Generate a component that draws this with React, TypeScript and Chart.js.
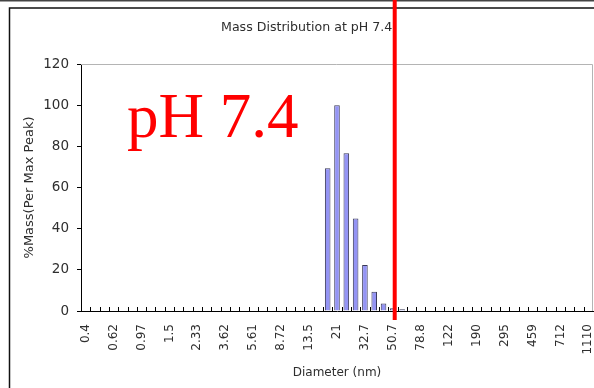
import { useEffect, useRef } from 'react';
import { Chart, registerables } from 'chart.js';

Chart.register(...registerables);

// Diameter channels (nm), log-spaced
const DIAMETERS = [
  '0.4', '0.463', '0.536', '0.62', '0.718', '0.832', '0.97', '1.12', '1.3', '1.5',
  '1.74', '2.01', '2.33', '2.7', '3.12', '3.62', '4.19', '4.85', '5.61', '6.5',
  '7.52', '8.72', '10.1', '11.7', '13.5', '15.6', '18.1', '21', '24.3', '28.2',
  '32.7', '37.9', '43.9', '50.7', '58.7', '68', '78.8', '91.3', '106', '122',
  '141', '164', '190', '220', '255', '295', '342', '396', '459', '532',
  '616', '712', '825', '955', '1110',
];

// %Mass relative to the max peak, one value per channel
const MASS_PCT = [
  0, 0, 0, 0, 0, 0, 0, 0, 0, 0,
  0, 0, 0, 0, 0, 0, 0, 0, 0, 0,
  0, 0, 0, 0, 0, 0, 69.3, 100, 76.6, 45,
  22.4, 9.4, 3.7, 1.3, 0.8, 0.4, 0, 0, 0, 0,
  0, 0, 0, 0, 0, 0, 0, 0, 0, 0,
  0, 0, 0, 0, 0,
];

const Y_MIN = 0;
const Y_MAX = 120;
const Y_STEP = 20;
const LABEL_EVERY = 3;

const CHART_TITLE = 'Mass Distribution at pH 7.4';
const X_TITLE = 'Diameter (nm)';
const Y_TITLE = '%Mass(Per Max Peak)';
const PH_LABEL = 'pH 7.4';
// position of the red cut-off marker, in channel index units
const CUTOFF_CHANNEL = 33.2;

const SANS = "'DejaVu Sans', 'Liberation Sans', Arial, sans-serif";
const SERIF = "'Liberation Serif', 'Times New Roman', serif";
const TEXT = '#2e2e2e';

const decor = {
  id: 'decor',
  beforeDraw(chart: any) {
    const { ctx, width, height } = chart;
    ctx.save();
    ctx.fillStyle = '#ffffff';
    ctx.fillRect(0, 0, width, height);
    ctx.restore();
  },
  afterDatasetsDraw(chart: any) {
    const { ctx, chartArea: a, scales } = chart;
    const x = scales.x;
    ctx.save();
    // light plot frame on top and right
    ctx.strokeStyle = '#b4b4b4';
    ctx.lineWidth = 1;
    ctx.beginPath();
    ctx.moveTo(a.left, a.top + 0.5);
    ctx.lineTo(a.right - 0.5, a.top + 0.5);
    ctx.lineTo(a.right - 0.5, a.bottom);
    ctx.stroke();
    // inward tick marks at channel boundaries
    ctx.strokeStyle = '#000';
    ctx.beginPath();
    for (let i = 1; i < DIAMETERS.length; i++) {
      const px = Math.round(x.getPixelForValue(i - 0.5)) + 0.5;
      ctx.moveTo(px, a.bottom);
      ctx.lineTo(px, a.bottom - 4);
    }
    ctx.stroke();
    ctx.restore();
  },
  afterDraw(chart: any) {
    const { ctx, width, height, chartArea: a, scales } = chart;
    const x = scales.x;
    ctx.save();
    // outer frame
    ctx.strokeStyle = '#444';
    ctx.lineWidth = 1.5;
    ctx.beginPath();
    ctx.moveTo(0, 0.75);
    ctx.lineTo(width, 0.75);
    ctx.stroke();
    ctx.strokeStyle = '#111';
    ctx.lineWidth = 1.5;
    ctx.beginPath();
    ctx.moveTo(width, 8);
    ctx.lineTo(9.5, 8);
    ctx.lineTo(9.5, height);
    ctx.stroke();

    // chart title
    ctx.fillStyle = TEXT;
    ctx.font = `12.6px ${SANS}`;
    ctx.textAlign = 'center';
    ctx.textBaseline = 'alphabetic';
    ctx.fillText(CHART_TITLE, 306.7, 30.7);

    // big pH label
    ctx.fillStyle = '#ff0000';
    ctx.font = `63px ${SERIF}`;
    ctx.textAlign = 'left';
    ctx.fillText(PH_LABEL, 127, 137);

    // cut-off marker
    const mx = x.getPixelForValue(CUTOFF_CHANNEL);
    ctx.strokeStyle = '#ff0000';
    ctx.lineWidth = 4;
    ctx.beginPath();
    ctx.moveTo(mx, 0);
    ctx.lineTo(mx, a.bottom + 9);
    ctx.stroke();
    ctx.restore();
  },
};

export default function App() {
  const canvasRef = useRef<HTMLCanvasElement | null>(null);

  useEffect(() => {
    const canvas = canvasRef.current;
    if (!canvas) return;
    const chart = new Chart(canvas, {
      type: 'bar',
      data: {
        labels: DIAMETERS,
        datasets: [
          {
            data: MASS_PCT,
            backgroundColor: '#9494f4',
            borderColor: '#3a3a58',
            borderWidth: 1,
            categoryPercentage: 1,
            barPercentage: 0.6,
          },
        ],
      },
      options: {
        animation: false,
        responsive: false,
        devicePixelRatio: 1,
        layout: { padding: { left: 0, top: 64, right: 1, bottom: 0 } },
        plugins: {
          legend: { display: false },
          tooltip: { enabled: false },
          title: { display: false },
        },
        scales: {
          x: {
            type: 'category',
            offset: true,
            grid: { display: true, drawOnChartArea: false, drawTicks: false, offset: true },
            border: { display: true, color: '#000', width: 1 },
            ticks: {
              autoSkip: false,
              minRotation: 90,
              maxRotation: 90,
              padding: 13,
              color: TEXT,
              font: { family: SANS, size: 12 },
              callback: (_v: any, i: number) => (i % LABEL_EVERY === 0 ? DIAMETERS[i] : ''),
            },
            title: {
              display: true,
              text: X_TITLE,
              color: TEXT,
              font: { family: SANS, size: 12 },
              padding: { top: 0, bottom: 8.3 },
            },
            afterFit: (s: any) => {
              s.height = 77;
              s.paddingLeft = 0;
              s.paddingRight = 0;
            },
          },
          y: {
            min: Y_MIN,
            max: Y_MAX,
            grid: { display: true, drawOnChartArea: false, drawTicks: true, tickLength: 4, color: '#000' },
            border: { display: true, color: '#000', width: 1 },
            ticks: {
              stepSize: Y_STEP,
              padding: 8,
              color: TEXT,
              font: { family: SANS, size: 13.5 },
            },
            title: {
              display: true,
              text: Y_TITLE,
              color: TEXT,
              font: { family: SANS, size: 13 },
              padding: { top: 21.5, bottom: 0 },
            },
            afterFit: (s: any) => {
              s.width = 81;
              s.paddingTop = 0;
              s.paddingBottom = 0;
            },
          },
        },
      },
      plugins: [decor],
    });
    return () => chart.destroy();
  }, []);

  return (
    <div style={{ position: 'fixed', left: 0, top: 0, width: 594, height: 388, background: '#fff' }}>
      <canvas ref={canvasRef} width={594} height={388} style={{ display: 'block' }} />
    </div>
  );
}
